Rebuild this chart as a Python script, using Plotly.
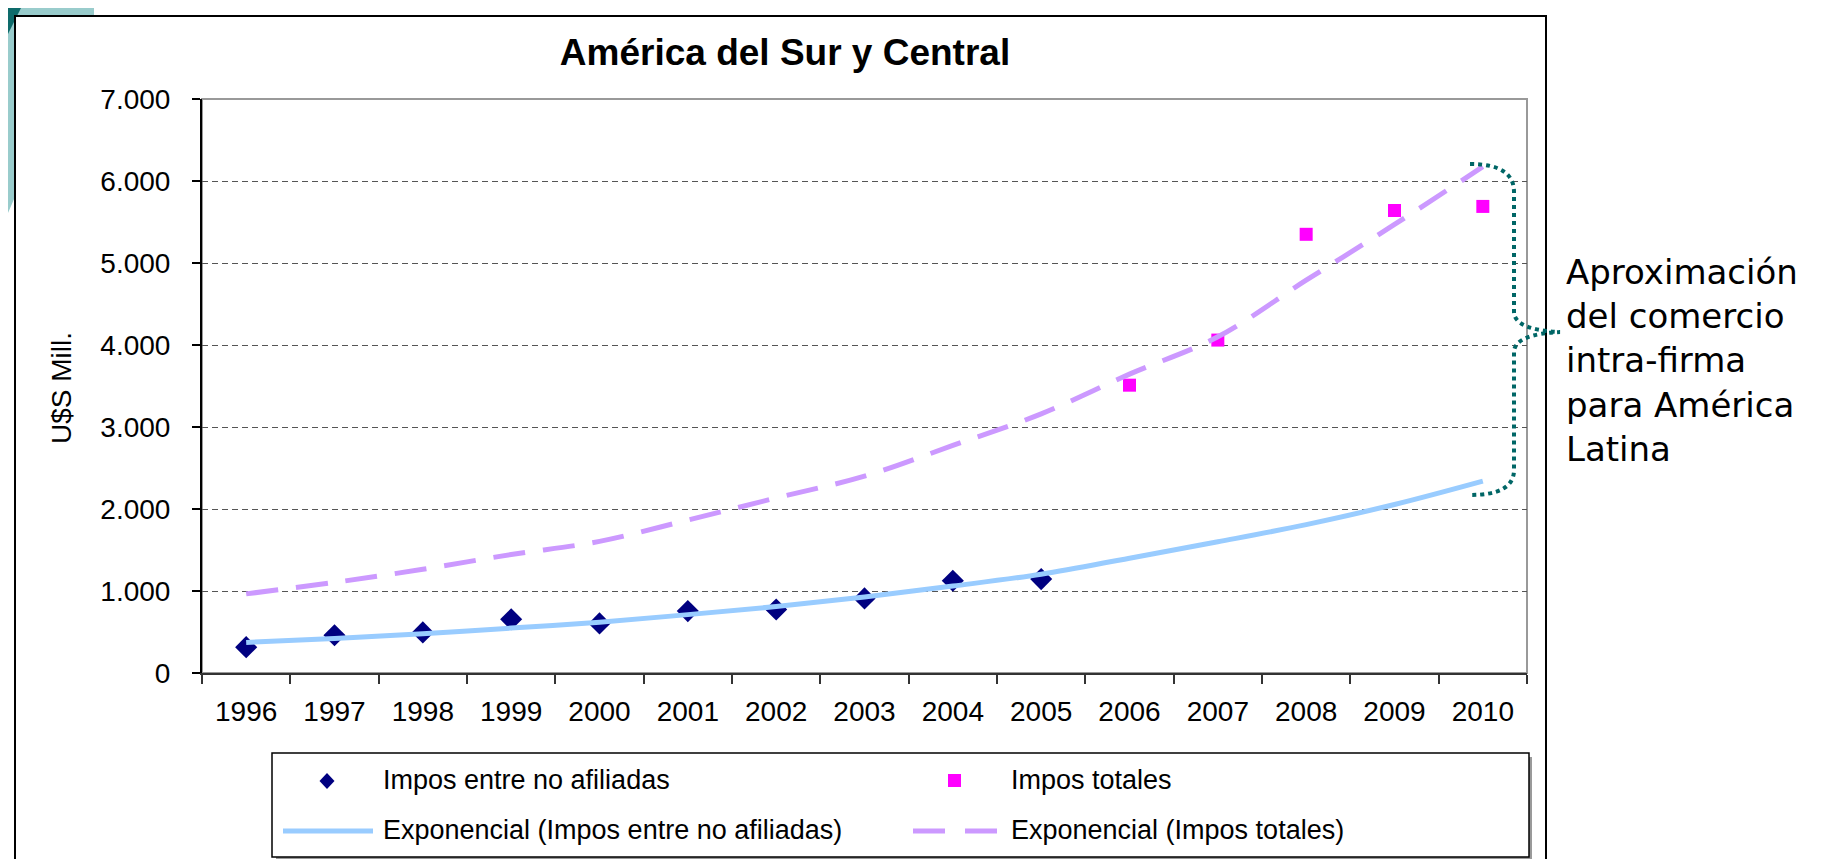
import plotly.graph_objects as go

years = ["1996", "1997", "1998", "1999", "2000", "2001", "2002", "2003",
         "2004", "2005", "2006", "2007", "2008", "2009", "2010"]

# puntos observados
years_no_afiliadas = years[:10]
impos_no_afiliadas = [315, 460, 495, 655, 605, 755, 775, 910, 1125, 1145]
years_totales = years[10:]
impos_totales = [3510, 4060, 5350, 5640, 5690]

# lineas de tendencia exponencial
tend_no_afiliadas = [373, 420, 480, 548, 620, 712, 810, 928, 1060, 1205,
                     1400, 1600, 1810, 2055, 2340]
tend_totales = [965, 1105, 1265, 1445, 1605, 1865, 2135, 2400, 2775, 3160,
                3645, 4100, 4790, 5470, 6175]

y_ticks = [0, 1000, 2000, 3000, 4000, 5000, 6000, 7000]

FONT = "Liberation Sans, Arial, sans-serif"

# plot area in pixels
L, R, T, B = 194, 1519, 91, 665
W, H = R - L, B - T


def px(x):
    return (x - L) / W


def py(y):
    return (B - y) / H


def pt(x, y):
    return "%.5f,%.5f" % (px(x), py(y))


fig = go.Figure()

fig.add_trace(go.Scatter(
    x=years_no_afiliadas, y=impos_no_afiliadas, mode="markers",
    name="Impos entre no afiliadas",
    marker=dict(symbol="diamond", size=17, color="#000080"),
))
fig.add_trace(go.Scatter(
    x=years_totales, y=impos_totales, mode="markers",
    name="Impos totales",
    marker=dict(symbol="square", size=13, color="#FF00FF"),
))
fig.add_trace(go.Scatter(
    x=years, y=tend_no_afiliadas, mode="lines",
    name="Exponencial (Impos entre no afiliadas)",
    line=dict(color="#99CCFF", width=5, shape="spline"),
))
fig.add_trace(go.Scatter(
    x=years, y=tend_totales, mode="lines",
    name="Exponencial (Impos totales)",
    line=dict(color="#CC99FF", width=5, shape="spline", dash="32px,18px"),
))

shapes = []
# fondo de la diapositiva (esquina)
shapes.append(dict(type="path", xref="paper", yref="paper", layer="below",
                   path="M %s L %s L %s Q %s %s Z" % (pt(0, 0), pt(86, 0), pt(86, 20), pt(40, 110), pt(0, 205)),
                   fillcolor="#99CCCC", line=dict(width=0)))
shapes.append(dict(type="path", xref="paper", yref="paper", layer="below",
                   path="M %s L %s L %s Z" % (pt(0, 0), pt(13, 0), pt(0, 26)),
                   fillcolor="#0E6B6B", line=dict(width=0)))
# caja del grafico
shapes.append(dict(type="rect", xref="paper", yref="paper", layer="below",
                   x0=px(7), x1=px(1538), y0=py(870), y1=py(8),
                   fillcolor="white", line=dict(color="black", width=2)))
# borde del area de trazado
shapes.append(dict(type="rect", xref="paper", yref="paper", layer="below",
                   x0=0, x1=1, y0=0, y1=1,
                   line=dict(color="#999999", width=2)))
# leyenda
shapes.append(dict(type="rect", xref="paper", yref="paper", layer="below",
                   x0=px(268), x1=px(1524), y0=py(852), y1=py(749),
                   fillcolor="#9A9A9A", line=dict(width=0)))
shapes.append(dict(type="rect", xref="paper", yref="paper", layer="below",
                   x0=px(264), x1=px(1521), y0=py(849), y1=py(745),
                   fillcolor="white", line=dict(color="black", width=1.5)))
shapes.append(dict(type="path", xref="paper", yref="paper",
                   path="M %s L %s L %s L %s Z" % (pt(319, 765), pt(326.5, 773), pt(319, 781), pt(311.5, 773)),
                   fillcolor="#000080", line=dict(width=0)))
shapes.append(dict(type="rect", xref="paper", yref="paper",
                   x0=px(940), x1=px(953), y0=py(779), y1=py(766),
                   fillcolor="#FF00FF", line=dict(width=0)))
shapes.append(dict(type="line", xref="paper", yref="paper",
                   x0=px(275), x1=px(365), y0=py(823), y1=py(823),
                   line=dict(color="#99CCFF", width=5)))
shapes.append(dict(type="line", xref="paper", yref="paper",
                   x0=px(905), x1=px(990), y0=py(823), y1=py(823),
                   line=dict(color="#CC99FF", width=5, dash="32px,20px")))
# llave punteada
brace = ("M %s Q %s %s L %s Q %s %s Q %s %s L %s Q %s %s" % (
    pt(1462, 156), pt(1506, 156), pt(1506, 184),
    pt(1506, 305), pt(1508, 322), pt(1552, 324),
    pt(1508, 326), pt(1506, 343),
    pt(1506, 462), pt(1506, 487), pt(1462, 487)))
shapes.append(dict(type="path", xref="paper", yref="paper", path=brace,
                   line=dict(color="#006666", width=4, dash="dot")))

annotations = [
    dict(xref="paper", yref="paper", x=px(53), y=py(380), text="U$S Mill.",
         textangle=-90, showarrow=False, xanchor="center", yanchor="middle",
         font=dict(family=FONT, size=28, color="black")),
    dict(xref="paper", yref="paper", x=px(373), y=py(772), text="Impos entre no afiliadas",
         showarrow=False, xanchor="left", yanchor="middle",
         font=dict(family=FONT, size=27, color="black")),
    dict(xref="paper", yref="paper", x=px(1001), y=py(772), text="Impos totales",
         showarrow=False, xanchor="left", yanchor="middle",
         font=dict(family=FONT, size=27, color="black")),
    dict(xref="paper", yref="paper", x=px(373), y=py(822), text="Exponencial (Impos entre no afiliadas)",
         showarrow=False, xanchor="left", yanchor="middle",
         font=dict(family=FONT, size=27, color="black")),
    dict(xref="paper", yref="paper", x=px(1001), y=py(822), text="Exponencial (Impos totales)",
         showarrow=False, xanchor="left", yanchor="middle",
         font=dict(family=FONT, size=27, color="black")),
    dict(xref="paper", yref="paper", x=px(1556), y=py(352),
         text="Aproximación<br>del comercio<br>intra-firma<br>para América<br>Latina",
         showarrow=False, xanchor="left", yanchor="middle", align="left",
         font=dict(family="DejaVu Sans, Verdana, sans-serif", size=34, color="black")),
]

fig.update_layout(
    width=1829, height=859,
    margin=dict(l=L, r=1829 - R, t=T, b=859 - B, pad=0),
    paper_bgcolor="white", plot_bgcolor="rgba(0,0,0,0)",
    separators=",.",
    showlegend=False,
    title=dict(text="<b>América del Sur y Central</b>", x=777 / 1829, xanchor="center",
               xref="container", y=1 - 44 / 859, yanchor="middle", yref="container",
               font=dict(family=FONT, size=37, color="black")),
    font=dict(family=FONT, size=28, color="black"),
    shapes=shapes, annotations=annotations,
)
fig.update_xaxes(type="category", categoryorder="array", categoryarray=years,
                 range=[-0.5, 14.5], tickson="boundaries", ticks="outside",
                 ticklen=9, tickwidth=1.5, tickcolor="#333333",
                 showline=True, linecolor="#333333", linewidth=2,
                 showgrid=False, zeroline=False, ticklabelstandoff=12,
                 tickfont=dict(family=FONT, size=28, color="black"))
fig.update_yaxes(range=[0, 7000], tickvals=y_ticks, tickformat=",d",
                 ticks="outside", ticklen=8, tickwidth=1.5, tickcolor="black",
                 showline=True, linecolor="black", linewidth=2,
                 showgrid=True, gridcolor="#555555", gridwidth=1, griddash="6px,4px",
                 zeroline=False, ticklabelstandoff=16,
                 tickfont=dict(family=FONT, size=28, color="black"))

fig.write_html("out.html")
